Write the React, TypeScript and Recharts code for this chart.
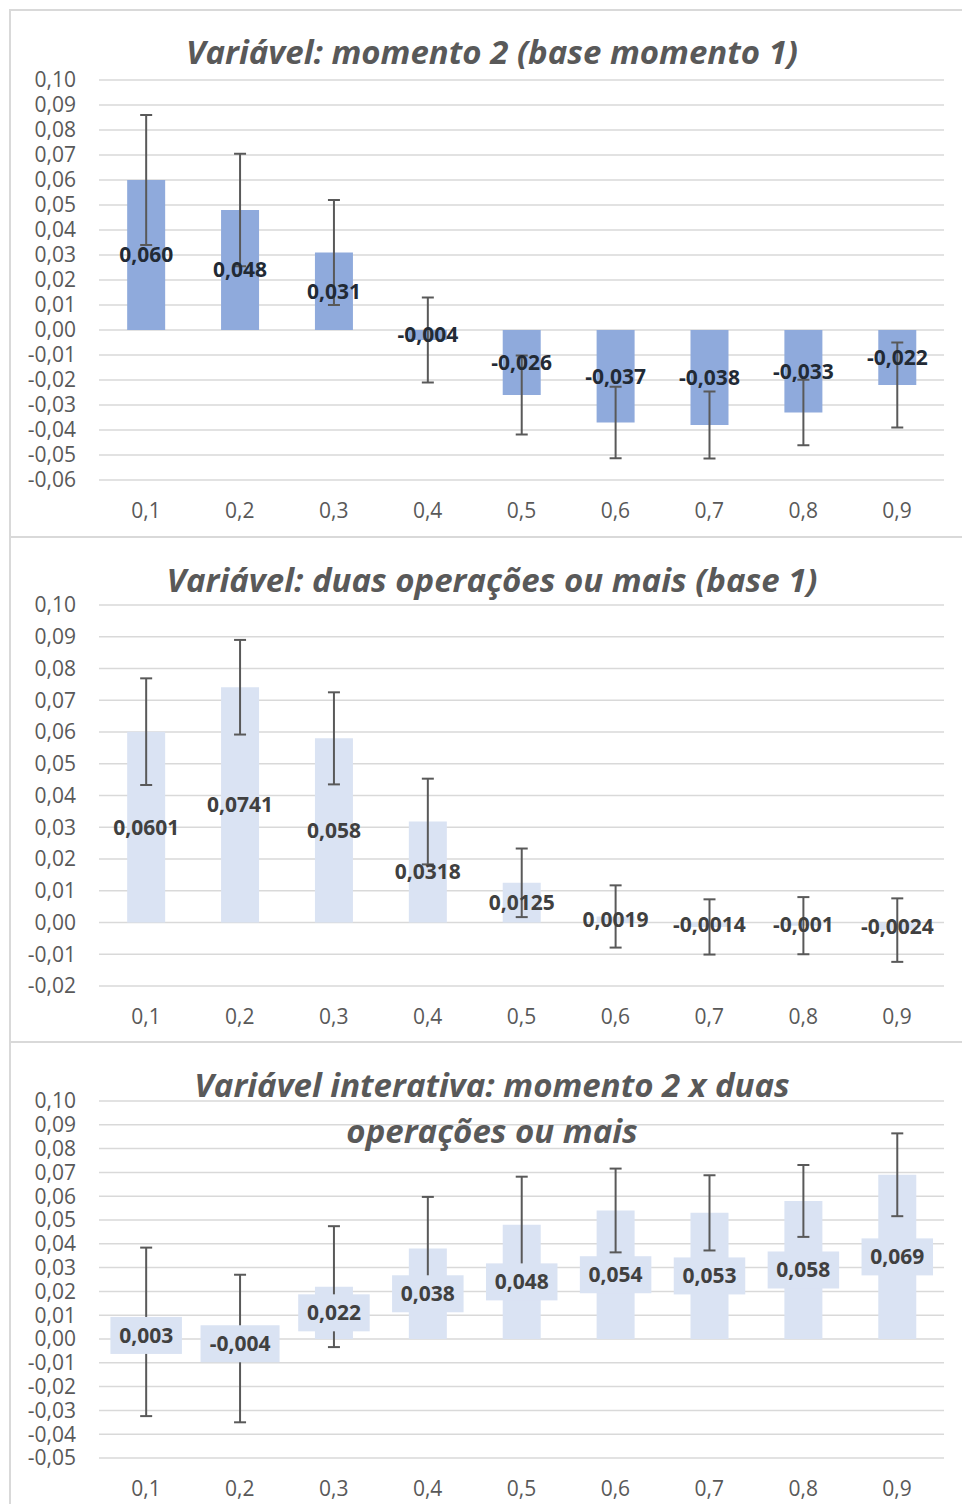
import React from 'react';
import { BarChart, Bar, XAxis, YAxis, CartesianGrid, ErrorBar, LabelList } from 'recharts';

const categories = ['0,1', '0,2', '0,3', '0,4', '0,5', '0,6', '0,7', '0,8', '0,9'];

// momento 2 (base momento 1)
const momentoValues = [0.06, 0.048, 0.031, -0.004, -0.026, -0.037, -0.038, -0.033, -0.022];
const momentoErrors = [0.026, 0.0225, 0.021, 0.017, 0.0158, 0.0143, 0.0134, 0.0131, 0.017];
const momentoTicks = [-0.06, -0.05, -0.04, -0.03, -0.02, -0.01, 0, 0.01, 0.02, 0.03, 0.04, 0.05, 0.06, 0.07, 0.08, 0.09, 0.1];

// duas operações ou mais (base 1)
const duasValues = [0.0601, 0.0741, 0.058, 0.0318, 0.0125, 0.0019, -0.0014, -0.001, -0.0024];
const duasErrors = [0.0168, 0.0149, 0.0145, 0.0135, 0.0108, 0.0098, 0.0087, 0.009, 0.01];
const duasTicks = [-0.02, -0.01, 0, 0.01, 0.02, 0.03, 0.04, 0.05, 0.06, 0.07, 0.08, 0.09, 0.1];

// interativa: momento 2 x duas operações ou mais
const interValues = [0.003, -0.004, 0.022, 0.038, 0.048, 0.054, 0.053, 0.058, 0.069];
const interErrors = [0.0354, 0.031, 0.0254, 0.0217, 0.0202, 0.0176, 0.0158, 0.0151, 0.0174];
const interTicks = [-0.05, -0.04, -0.03, -0.02, -0.01, 0, 0.01, 0.02, 0.03, 0.04, 0.05, 0.06, 0.07, 0.08, 0.09, 0.1];

const FONT = '"Open Sans", sans-serif';
const GRID = '#D9D9D9';
const AXIS_TEXT = '#595959';

const toRows = (vals: number[], errs: number[]) =>
  categories.map((c, i) => ({ cat: c, value: vals[i], err: errs[i] }));

const fmtTick = (v: number) => v.toFixed(2).replace('.', ',');
const fmt3 = (v: number) => v.toFixed(3).replace('.', ',');
const fmtRaw = (v: number) => String(v).replace('.', ',');

// label with filled box behind it (third chart)
const BoxLabel = (props: any) => {
  const { x, y, width, height, value } = props;
  const text = fmt3(Number(value));
  const cx = x + width / 2;
  const cy = y + height / 2;
  let w = 18;
  for (const ch of text) w += ch === ',' ? 5.5 : ch === '-' ? 7.5 : 12;
  return (
    <g>
      <rect x={cx - w / 2} y={cy - 18.5} width={w} height={37} fill="#DAE3F3" />
      <text x={cx} y={cy} dy="0.35em" textAnchor="middle" fill="#404040"
        fontFamily={FONT} fontWeight={700} fontSize={21}>{text}</text>
    </g>
  );
};

interface PanelProps {
  top: number;
  height: number;
  marginTop: number;
  marginBottom: number;
  data: any[];
  ticks: number[];
  color: string;
  labelColor: string;
  labelFmt?: (v: number) => string;
  boxed?: boolean;
}

const Panel: React.FC<PanelProps> = ({ top, height, marginTop, marginBottom, data, ticks, color, labelColor, labelFmt, boxed }) => (
  <div style={{ position: 'absolute', left: 0, top }}>
    <BarChart width={962} height={height} data={data}
      margin={{ top: marginTop, right: 18, bottom: marginBottom, left: 0 }} barCategoryGap="30%">
      <CartesianGrid horizontal vertical={false} stroke={GRID} strokeWidth={1.5} />
      <XAxis dataKey="cat" axisLine={false} tickLine={false} height={40} tickMargin={17}
        tick={{ fontSize: 21, fill: AXIS_TEXT, fontFamily: FONT }} interval={0} />
      <YAxis domain={[ticks[0], ticks[ticks.length - 1]]} ticks={ticks} interval={0} width={99}
        axisLine={false} tickLine={false} tickMargin={17} tickFormatter={fmtTick}
        tick={{ fontSize: 21, fill: AXIS_TEXT, fontFamily: FONT }} />
      <Bar dataKey="value" fill={color} isAnimationActive={false}>
        <ErrorBar dataKey="err" width={6} strokeWidth={2} stroke="#595959" direction="y" />
        {boxed ? (
          <LabelList dataKey="value" content={BoxLabel} />
        ) : (
          <LabelList dataKey="value" position="center" formatter={(v: any) => labelFmt!(Number(v))}
            style={{ fill: labelColor, fontWeight: 700, fontSize: 21, fontFamily: FONT }} />
        )}
      </Bar>
    </BarChart>
  </div>
);

const titleStyle: React.CSSProperties = {
  position: 'absolute', left: 92, width: 800, textAlign: 'center',
  fontFamily: FONT, fontWeight: 700, fontStyle: 'italic', fontSize: 33, color: '#595959',
  lineHeight: '46px', whiteSpace: 'nowrap',
};

export default function App() {
  return (
    <div style={{ position: 'absolute', left: 0, top: 0, width: 962, height: 1504, overflow: 'hidden', background: '#fff' }}>
      {/* panel frames */}
      <div style={{ position: 'absolute', left: 9, top: 9, width: 2, height: 1495, background: GRID }} />
      <div style={{ position: 'absolute', left: 9, top: 9, width: 953, height: 2, background: GRID }} />
      <div style={{ position: 'absolute', left: 9, top: 536, width: 953, height: 2, background: GRID }} />
      <div style={{ position: 'absolute', left: 9, top: 1041, width: 953, height: 2, background: GRID }} />

      <Panel top={0} height={537} marginTop={80} marginBottom={17}
        data={toRows(momentoValues, momentoErrors)} ticks={momentoTicks}
        color="#8FAADC" labelColor="#222A35" labelFmt={fmt3} />
      <Panel top={537} height={505} marginTop={68} marginBottom={16}
        data={toRows(duasValues, duasErrors)} ticks={duasTicks}
        color="#DAE3F3" labelColor="#404040" labelFmt={fmtRaw} />
      <Panel top={1042} height={462} marginTop={59} marginBottom={6}
        data={toRows(interValues, interErrors)} ticks={interTicks}
        color="#DAE3F3" labelColor="#404040" boxed />

      <div style={{ ...titleStyle, top: 29 }}>Variável: momento 2 (base momento 1)</div>
      <div style={{ ...titleStyle, top: 557 }}>Variável: duas operações ou mais (base 1)</div>
      <div style={{ ...titleStyle, top: 1062 }}>
        Variável interativa: momento 2 x duas<br />operações ou mais
      </div>
    </div>
  );
}
